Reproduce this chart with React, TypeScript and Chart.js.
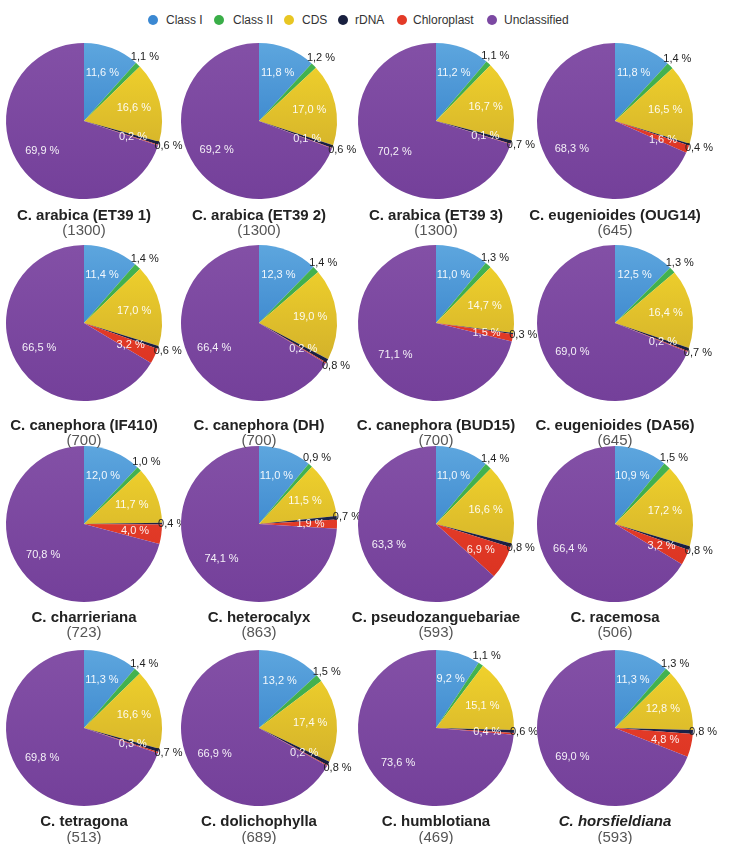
import React, { useEffect, useRef } from "react";
import { Chart, registerables } from "chart.js";

Chart.register(...registerables);

const categories = ["Class I", "Class II", "CDS", "rDNA", "Chloroplast", "Unclassified"];

const species = [
  "C. arabica (ET39 1)", "C. arabica (ET39 2)", "C. arabica (ET39 3)", "C. eugenioides (OUG14)",
  "C. canephora (IF410)", "C. canephora (DH)", "C. canephora (BUD15)", "C. eugenioides (DA56)",
  "C. charrieriana", "C. heterocalyx", "C. pseudozanguebariae", "C. racemosa",
  "C. tetragona", "C. dolichophylla", "C. humblotiana", "C. horsfieldiana",
];
const counts = [1300, 1300, 1300, 645, 700, 700, 700, 645, 723, 863, 593, 506, 513, 689, 469, 593];

const classI = [11.6, 11.8, 11.2, 11.8, 11.4, 12.3, 11.0, 12.5, 12.0, 11.0, 11.0, 10.9, 11.3, 13.2, 9.2, 11.3];
const classII = [1.1, 1.2, 1.1, 1.4, 1.4, 1.4, 1.3, 1.3, 1.0, 0.9, 1.4, 1.5, 1.4, 1.5, 1.1, 1.3];
const cds = [16.6, 17.0, 16.7, 16.5, 17.0, 19.0, 14.7, 16.4, 11.7, 11.5, 16.6, 17.2, 16.6, 17.4, 15.1, 12.8];
const rdna = [0.6, 0.6, 0.7, 0.4, 0.6, 0.8, 0.3, 0.7, 0.4, 0.7, 0.8, 0.8, 0.7, 0.8, 0.6, 0.8];
const chloroplast = [0.2, 0.1, 0.1, 1.6, 3.2, 0.2, 1.5, 0.2, 4.0, 1.9, 6.9, 3.2, 0.3, 0.2, 0.4, 4.8];
const unclassified = [69.9, 69.2, 70.2, 68.3, 66.5, 66.4, 71.1, 69.0, 70.8, 74.1, 63.3, 66.4, 69.8, 66.9, 73.6, 69.0];

const italicTitle = [false, false, false, false, false, false, false, false, false, false, false, false, false, false, false, true];

// colours: [top, bottom] of the gradient
const colorTop = ["#5da6de", "#46b653", "#f4d62c", "#232a55", "#ec4530", "#8350a6"];
const colorBottom = ["#2672c2", "#349e3f", "#c8a52a", "#141a3c", "#d8301f", "#74409a"];
const legendColor = ["#3b88d2", "#3aae48", "#e8c623", "#19203f", "#e33a27", "#7b48a2"];
// label placement: inside (white) or outside (dark)
const outside = [false, true, false, true, false, false];

const colX = [84, 259, 436, 615];
const rowY = [121, 323, 524, 728];
const titleY = [215, 425, 617, 821];
const countY = [229, 439, 631, 836];

const R = 78;
const CW = 250;
const CH = 200;

const FONT = "'Liberation Sans', Arial, Helvetica, sans-serif";

const labelPlugin = {
  id: "sliceLabels",
  afterDatasetsDraw(chart: any) {
    const ctx = chart.ctx;
    const meta = chart.getDatasetMeta(0);
    const data = chart.data.datasets[0].data as number[];
    ctx.save();
    ctx.font = `11px ${FONT}`;
    ctx.textAlign = "center";
    ctx.textBaseline = "middle";
    meta.data.forEach((arc: any, i: number) => {
      const { x, y, startAngle, endAngle, outerRadius } = arc.getProps(
        ["x", "y", "startAngle", "endAngle", "outerRadius"],
        true
      );
      const mid = (startAngle + endAngle) / 2;
      const out = outside[i];
      const d = out ? outerRadius * 1.13 : outerRadius * 0.66;
      const lx = x + Math.cos(mid) * d;
      const ly = y + Math.sin(mid) * d;
      ctx.fillStyle = out ? "#222222" : "rgba(255,255,255,0.92)";
      const txt = data[i].toFixed(1).replace(".", ",") + " %";
      ctx.fillText(txt, lx, ly);
    });
    ctx.restore();
  },
};

function PieChart({ idx }: { idx: number }) {
  const ref = useRef<HTMLCanvasElement | null>(null);
  useEffect(() => {
    if (!ref.current) return;
    const values = [classI[idx], classII[idx], cds[idx], rdna[idx], chloroplast[idx], unclassified[idx]];
    const chart = new Chart(ref.current, {
      type: "pie",
      data: {
        labels: categories,
        datasets: [
          {
            data: values,
            borderWidth: 0,
            backgroundColor: (c: any) => {
              const ch = c.chart;
              const area = ch.chartArea;
              const i = c.dataIndex;
              if (!area) return legendColor[i];
              const cy = (area.top + area.bottom) / 2;
              const g = ch.ctx.createLinearGradient(0, cy - R, 0, cy + R);
              g.addColorStop(0, colorTop[i]);
              g.addColorStop(1, colorBottom[i]);
              return g;
            },
          },
        ],
      },
      options: {
        animation: false,
        responsive: false,
        maintainAspectRatio: false,
        layout: {
          padding: { left: (CW - 2 * R) / 2, right: (CW - 2 * R) / 2, top: (CH - 2 * R) / 2, bottom: (CH - 2 * R) / 2 },
        },
        plugins: { legend: { display: false }, tooltip: { enabled: false } },
      },
      plugins: [labelPlugin],
    });
    return () => chart.destroy();
  }, [idx]);
  const col = idx % 4;
  const row = Math.floor(idx / 4);
  return (
    <canvas
      ref={ref}
      width={CW}
      height={CH}
      style={{
        position: "absolute",
        left: colX[col] - CW / 2,
        top: rowY[row] - CH / 2,
        width: CW,
        height: CH,
      }}
    />
  );
}

const legendDotX = [153, 219, 289, 343, 402, 492];
const legendTextX = [166, 233, 302, 355, 413, 504];

export default function App() {
  return (
    <div
      style={{
        position: "absolute",
        left: 0,
        top: 0,
        width: 730,
        height: 844,
        background: "#ffffff",
        overflow: "hidden",
        fontFamily: FONT,
      }}
    >
      {categories.map((c, i) => (
        <React.Fragment key={c}>
          <div
            style={{
              position: "absolute",
              left: legendDotX[i] - 5,
              top: 15,
              width: 10,
              height: 10,
              borderRadius: "50%",
              background: legendColor[i],
            }}
          />
          <div
            style={{
              position: "absolute",
              left: legendTextX[i],
              top: 12,
              fontSize: 12,
              lineHeight: "16px",
              color: "#333",
              whiteSpace: "nowrap",
            }}
          >
            {c}
          </div>
        </React.Fragment>
      ))}
      {species.map((s, i) => (
        <PieChart key={"p" + i} idx={i} />
      ))}
      {species.map((s, i) => {
        const col = i % 4;
        const row = Math.floor(i / 4);
        return (
          <React.Fragment key={"t" + i}>
            <div
              style={{
                position: "absolute",
                left: colX[col] - 90,
                width: 180,
                top: titleY[row] - 9,
                textAlign: "center",
                fontSize: 15,
                lineHeight: "18px",
                fontWeight: "bold",
                fontStyle: italicTitle[i] ? "italic" : "normal",
                color: "#222",
                whiteSpace: "nowrap",
              }}
            >
              {s}
            </div>
            <div
              style={{
                position: "absolute",
                left: colX[col] - 90,
                width: 180,
                top: countY[row] - 8,
                textAlign: "center",
                fontSize: 15,
                lineHeight: "18px",
                color: "#555",
                whiteSpace: "nowrap",
              }}
            >
              ({counts[i]})
            </div>
          </React.Fragment>
        );
      })}
    </div>
  );
}
